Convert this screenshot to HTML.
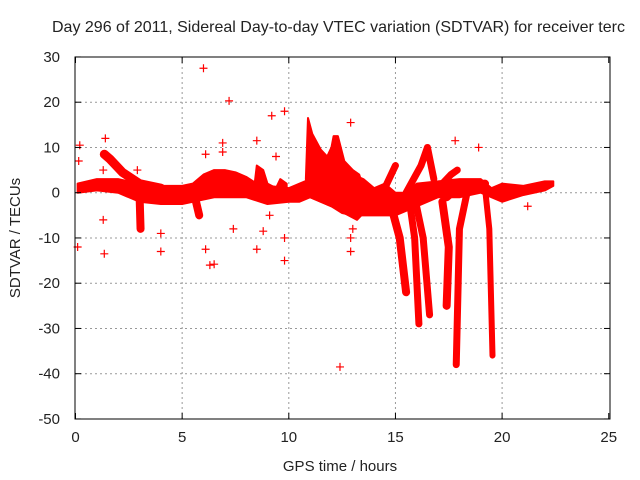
<!DOCTYPE html>
<html><head><meta charset="utf-8"><style>
body{margin:0;background:#fff;width:640px;height:480px;overflow:hidden}
svg{display:block;font-family:"Liberation Sans",sans-serif}
</style></head><body>
<svg id="chart" width="640" height="480">
<text x="52" y="32" font-size="16" fill="#222">Day 296 of 2011, Sidereal Day-to-day VTEC variation (SDTVAR) for receiver terc</text>
<text x="340" y="471" font-size="15" text-anchor="middle" fill="#222">GPS time / hours</text>
<text transform="translate(20,238) rotate(-90)" font-size="15" text-anchor="middle" fill="#222">SDTVAR / TECUs</text>
<g id="grid"></g><g id="marks"></g><g id="axes"></g>
</svg>
<script>
const xTicks=[0,5,10,15,20,25];
const yTicks=[30,20,10,0,-10,-20,-30,-40,-50];
// main band envelopes [hour, TECU]
const bandUpper=[[0.1,2],[1,3],[2,3],[2.5,2.5],[3,2],[4,1.5],[5,1.5],[5.5,2],[6,4],[6.5,5],[7,5],[7.5,4.5],[8,3.5],[8.5,2],[9,1.5],[10,1],[10.5,2],[11,3],[11.5,3],[12,3],[13,4],[13.5,3],[14,1],[14.5,2],[15,0],[15.5,0],[16,2],[17,2.5],[18,3],[19,3],[19.5,1],[20,2],[21,1.5],[22,2.5],[22.4,2.5]];
const bandLower=[[22.4,1.5],[22,0.5],[21,-0.5],[20,-2],[19.5,-1],[19,0],[18,-1],[17,-1],[16,-3],[15,-5],[14,-5],[13.5,-5],[13,-5],[12.5,-4.5],[12,-3],[11,-1],[10.5,-2],[10,-2],[9,-2.5],[8,-1],[7,-1],[6.5,-1],[6,-1.5],[5.5,-2],[5,-2.5],[4,-2.5],[3,-2],[2,0],[1,0.5],[0.1,0]];
const bumpEvening=[[8.4,2],[8.5,6],[8.8,5],[9,2],[9.4,1],[9.6,3],[9.9,2],[9.9,-1],[8.4,-1]];
const arcEarly=[[1.35,8.5],[1.6,7.5],[2.2,4.5],[3,2],[4,1]];
const dipA=[[14.8,-3],[15.2,-10],[15.5,-22]];
const dipB=[[15.6,0],[15.9,-10],[16.1,-29]];
const dipC=[[15.9,-1],[16.3,-10],[16.6,-27]];
const dipD=[[17.2,-2],[17.5,-12],[17.4,-25]];
const dipE=[[18.4,1],[18,-8],[17.85,-38]];
const dipF=[[19.2,1],[19.4,-8],[19.55,-36]];
const arcA=[[13.8,-2],[14.5,1],[15,6]];
const arcB=[[15.5,0],[16.2,6],[16.5,10],[16.8,3]];
const arcC=[[17,1],[17.6,4],[17.9,5]];
const arcD=[[17.4,-1],[18,1.5],[19.2,2]];
const dipSmall=[[3,0],[3.05,-8],[5.6,-1],[5.8,-5]];
const blob=[[10.9,16.5],[11.1,13],[11.5,9.5],[11.8,8],[12.0,10],[12.1,12.5],[12.3,12.5],[12.6,7],[13,5],[13.3,4],[13.5,1],[13.6,-4],[13.2,-6],[12.8,-5],[12,-3],[11,-1],[10.8,3]];
const outliers=[[0.2,10.5],[0.15,7],[0.1,-12],[1.4,12],[1.35,-13.5],[1.3,-6],[1.3,5],[2.9,5],[4,-13],[4,-9],[6,27.5],[6.1,8.5],[6.1,-12.5],[6.3,-16],[6.5,-15.8],[7.2,20.3],[6.9,11],[6.9,9],[7.4,-8],[8.5,11.5],[8.5,-12.5],[9.2,17],[9.4,8],[9.8,18],[9.8,-10],[9.8,-15],[8.8,-8.5],[9.1,-5],[12.4,-38.5],[12.9,15.5],[12.9,-13],[12.9,-10],[13,-8],[17.8,11.5],[18.9,10],[21.2,-3],[20,1]];
const X0=75.5,XS=21.33,Y0=192.7,YS=4.525;
const sx=h=>X0+h*XS, sy=v=>Y0-v*YS;
const NS='http://www.w3.org/2000/svg';
const grid=document.getElementById('grid'),marks=document.getElementById('marks'),axes=document.getElementById('axes');
function mk(tag,attrs,parent){const e=document.createElementNS(NS,tag);for(const k in attrs)e.setAttribute(k,attrs[k]);parent.appendChild(e);return e;}
xTicks.forEach(t=>{
 if(t>0&&t<25){const g=mk('line',{x1:sx(t),x2:sx(t),y1:57,y2:419,stroke:'#999','stroke-dasharray':'2,3'},grid);
 
 }
 const l=mk('text',{x:sx(t),y:442,'font-size':15,'text-anchor':'middle',fill:'#222'},axes);l.textContent=t;
 
 
 mk('line',{x1:sx(t),x2:sx(t),y1:419,y2:413,stroke:'#000'},axes);mk('line',{x1:sx(t),x2:sx(t),y1:57,y2:63,stroke:'#000'},axes);
});
yTicks.forEach(t=>{
 if(t<30&&t>-50){const g=mk('line',{x1:75,x2:610,y1:sy(t),y2:sy(t),stroke:'#999','stroke-dasharray':'2,3'},grid);
 
 }
 const l=mk('text',{x:60,y:sy(t)+5,'font-size':15,'text-anchor':'end',fill:'#222'},axes);l.textContent=t;
 
 
 mk('line',{x1:75,x2:81,y1:sy(t),y2:sy(t),stroke:'#000'},axes);mk('line',{x1:610,x2:604,y1:sy(t),y2:sy(t),stroke:'#000'},axes);
});
const frame=mk('rect',{x:75,y:57,width:535,height:362,fill:'none',stroke:'#000'},axes);


function track(arr,w,name){const p=mk('polyline',{points:arr.map(d=>sx(d[0])+','+sy(d[1])).join(' '),fill:'none',stroke:'#f00','stroke-width':w,'stroke-linejoin':'round','stroke-linecap':'round'},marks);
 
 }
function poly(arr,name){const p=mk('polygon',{points:arr.map(d=>sx(d[0])+','+sy(d[1])).join(' '),fill:'#f00',stroke:'#f00','stroke-width':2,'stroke-linejoin':'round'},marks);
 
 }
poly(bandUpper.concat(bandLower),'main-band');
poly(bumpEvening,'evening-bump');
track(arcEarly,9,'early-arc');
track(dipA,8,'dip-a');track(dipB,7,'dip-b');track(dipC,7,'dip-c');
track(dipD,8,'dip-d');track(dipE,7,'dip-e');track(dipF,6,'dip-f');
track(arcA,7,'arc-a');track(arcB,7,'arc-b');track(arcC,7,'arc-c');track(arcD,8,'arc-d');
track(dipSmall.slice(0,2),8,'dip-small-1');track(dipSmall.slice(2),8,'dip-small-2');
poly(blob,'dense-region');
outliers.forEach(d=>{const x=sx(d[0]),y=sy(d[1]);
 const p=mk('path',{d:`M${x-4},${y}H${x+4}M${x},${y-4}V${y+4}`,stroke:'#f00','stroke-width':1.2},marks);
 
 });
</script>
</body></html>
